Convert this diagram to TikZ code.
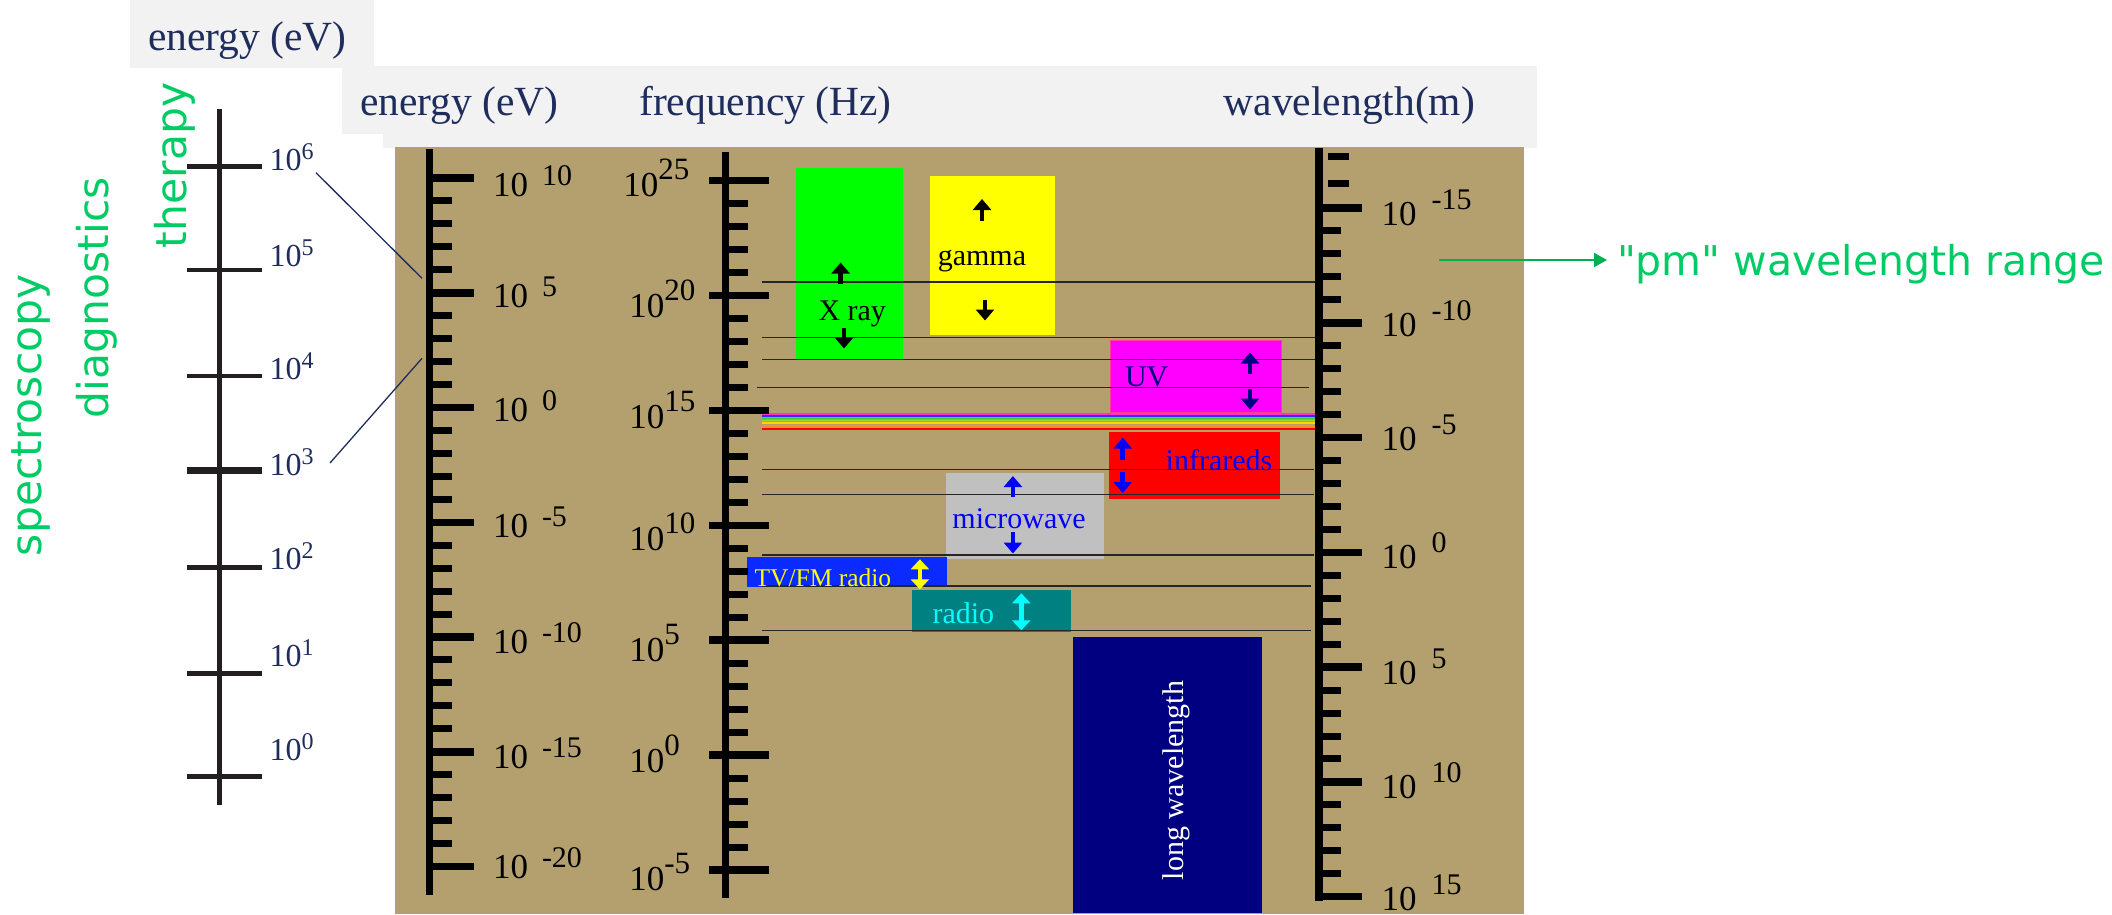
\documentclass[tikz,border=0pt]{standalone}
\usepackage{fontspec}
\setmainfont{Liberation Serif}
\newfontfamily\greenfont{DejaVu Sans}
\usetikzlibrary{arrows.meta}
\definecolor{bgtan}{RGB}{180,160,110}
\definecolor{hdrgray}{RGB}{242,242,242}
\definecolor{navyt}{RGB}{31,45,92}
\definecolor{lscale}{RGB}{35,31,32}
\definecolor{gtext}{RGB}{0,204,102}
\definecolor{garr}{RGB}{0,176,80}
\definecolor{xgreen}{RGB}{0,255,0}
\definecolor{tvblue}{RGB}{10,42,255}
\definecolor{teal2}{RGB}{0,128,128}
\definecolor{navy2}{RGB}{0,0,128}
\definecolor{mwgray}{RGB}{192,192,192}
\definecolor{pyellow}{RGB}{255,255,0}
\definecolor{pcyan}{RGB}{0,255,255}
\definecolor{pmagenta}{RGB}{255,0,255}
\definecolor{pred}{RGB}{255,0,0}
\definecolor{pblue}{RGB}{0,0,255}
\definecolor{uvedge}{RGB}{255,60,150}
\newcommand{\enlab}[1]{\fontsize{35}{35}\selectfont 10\hspace{14pt}\raisebox{11pt}{\fontsize{30}{30}\selectfont #1}}
\newcommand{\wllab}[1]{\fontsize{35}{35}\selectfont 10\hspace{15pt}\raisebox{16pt}{\fontsize{30}{30}\selectfont #1}}
\newcommand{\frlab}[1]{\fontsize{35}{35}\selectfont 10\raisebox{17pt}{\fontsize{31}{31}\selectfont #1}}
\newcommand{\ltlab}[1]{\fontsize{32}{32}\selectfont 10\raisebox{11pt}{\fontsize{24}{24}\selectfont #1}}
\begin{document}
\begin{tikzpicture}[x=1pt,y=-1pt,
  txt/.style={inner sep=0pt,outer sep=0pt,anchor=base west},
  hdr/.style={txt,text=navyt,font=\fontsize{41.5}{41.5}\selectfont},
  boxtxt/.style={txt,font=\fontsize{30}{30}\selectfont},
  gtxt/.style={txt,text=gtext,font=\greenfont\fontsize{42.5}{42.5}\selectfont},
  hline/.style={black!85,line width=1.3pt},
  barr/.style={line width=4.8pt,-{Triangle[width=18pt,length=11pt]}},
  dbarr/.style={line width=4.8pt,{Triangle[width=18pt,length=10pt]}-{Triangle[width=18pt,length=10pt]}},
  major/.style={line width=7.5pt},
  minor/.style={line width=7pt}]
\useasboundingbox (0,0) rectangle (2112,914);
% headers and background
\fill[hdrgray] (130,0) rectangle (374,67.7);
\fill[hdrgray] (342,66) rectangle (1537,134);
\fill[hdrgray] (383,133) rectangle (1537,147.5);
\fill[bgtan] (395,147) rectangle (1524,914);
\node[hdr] (h0) at (148,50) {energy (eV)};
\node[hdr] (h1) at (360,115) {energy (eV)};
\node[hdr] (h2) at (639.3,115) {frequency (Hz)};
\node[hdr,anchor=base east] (h3) at (1475,115) {wavelength(m)};
% left scale
\draw[lscale,line width=5pt] (219.6,109.3) -- (219.6,805);
\foreach \y/\w in {166.7/4.7,270/4.7,376/4.7,470.7/7,567.3/4.7,673.3/4.7,776.7/4.7}
  \draw[lscale,line width=\w pt] (187,\y) -- (262,\y);
\foreach \b/\s [count=\i] in {170.7/6,266/5,379.3/4,475/3,569.3/2,666/1,760.7/0}
  \node[txt,text=navyt] (ll\i) at (269.6,\b) {\ltlab{\s}};
\coordinate (ca1) at (316,172.7);
\coordinate (cb1) at (422,278.3);
\coordinate (ca2) at (330,463);
\coordinate (cb2) at (422,358.3);
\draw[navyt,line width=1.3pt] (ca1) -- (cb1);
\draw[navyt,line width=1.3pt] (ca2) -- (cb2);
% green rotated labels
\node[gtxt,rotate=90] (spec) at (41,556) {spectroscopy};
\node[gtxt,rotate=90] (diag) at (108,418) {diagnostics};
\node[gtxt,rotate=90] (ther) at (186,248) {therapy};
% boxes
\fill[xgreen] (795.5,167.7) rectangle (902.6,359.3);
\fill[pyellow] (930.2,176) rectangle (1055,335);
\fill[pmagenta] (1110,340) rectangle (1281.6,412.5);
\draw[uvedge,line width=1pt] (1110,340) rectangle (1281.6,412.5);
\fill[pred] (1109,432) rectangle (1279.5,498.5);
\fill[mwgray] (945.5,473.3) rectangle (1104,559.3);
\fill[tvblue] (746.5,556.7) rectangle (946.7,587.3);
\fill[teal2] (912.2,590) rectangle (1071,632.3);
\fill[navy2] (1073,636.7) rectangle (1262.4,913);
% thin horizontal lines
\foreach \y/\xs/\xe in {282/761.8/1316,337.5/761.8/1316,359.5/761.8/1316,387.5/757/1309,469.3/761.8/1314,494.3/761.8/1314,555/761.8/1314,586/761.8/1311,630.3/761.8/1311}
  \draw[hline] (\xs,\y) -- (\xe,\y);
% visible spectrum lines
\foreach \y/\c in {414/{rgb,255:red,255;green,51;blue,204},416/{rgb,255:red,60;green,40;blue,255},418.5/{rgb,255:red,51;green,204;blue,51},420.7/{rgb,255:red,160;green,210;blue,60},423/{rgb,255:red,255;green,215;blue,0},426/{rgb,255:red,255;green,140;blue,40}}
  \draw[color=\c,line width=1.3pt] (761.7,\y) -- (1315,\y);
\draw[pred,line width=1.3pt] (761.7,429) -- (1323,429);
% energy scale
\draw[line width=7pt] (429.5,149) -- (429.5,895);
\foreach \k in {0,...,6}{\pgfmathsetmacro\yy{178+114.75*\k}\draw[major] (429.5,\yy) -- (474,\yy);}
\foreach \k in {0,...,5}{\foreach \j in {1,...,4}{\pgfmathsetmacro\yy{178+114.75*\k+22.95*\j}\draw[minor] (429.5,\yy) -- (452.3,\yy);}}
\foreach \b/\s [count=\i] in {196/10,307.3/5,421.7/0,537.3/-5,653.3/-10,768.3/-15,878.3/-20}
  \node[txt] (en\i) at (493,\b) {\enlab{\s}};
% frequency scale
\draw[line width=7.5pt] (725.5,152) -- (725.5,898);
\foreach \k in {0,...,6}{\pgfmathsetmacro\yy{180.7+114.88*\k}\draw[major] (709,\yy) -- (769,\yy);}
\foreach \k in {0,...,5}{\foreach \j in {1,...,4}{\pgfmathsetmacro\yy{180.7+114.88*\k+22.98*\j}\draw[minor] (725.5,\yy) -- (748,\yy);}}
\foreach \x/\b/\s [count=\i] in {623.3/196/25,629.3/317.3/20,629.3/428.3/15,629.3/550/10,629.3/661.7/5,629.3/772.7/0,629.3/890/-5}
  \node[txt] (fr\i) at (\x,\b) {\frlab{\s}};
% wavelength scale
\draw[line width=7.7pt] (1319,148) -- (1319,900.7);
\foreach \k in {0,...,6}{\pgfmathsetmacro\yy{208+114.78*\k}\draw[major] (1315.2,\yy) -- (1362,\yy);}
\foreach \k in {0,...,5}{\foreach \j in {1,...,4}{\pgfmathsetmacro\yy{208+114.78*\k+22.956*\j}\draw[minor] (1319,\yy) -- (1341,\yy);}}
\draw[minor] (1327.7,156) -- (1349,156);
\draw[minor] (1327.7,183.3) -- (1349,183.3);
\foreach \b/\s [count=\i] in {225/-15,336.7/-10,450/-5,568.3/0,684/5,798.3/10,910/15}
  \node[txt] (wl\i) at (1381.7,\b) {\wllab{\s}};
% band labels
\node[boxtxt] (xray) at (818.5,320) {X ray};
\node[boxtxt] (gam) at (937.8,265) {gamma};
\node[boxtxt,text=navy2] (uv) at (1125,386.7) {UV};
\node[boxtxt,text=pblue] (ir) at (1165.7,470) {infrareds};
\node[boxtxt,text=pblue] (mw) at (952.4,528.3) {microwave};
\node[txt,text=pyellow,font=\fontsize{25.5}{25.5}\selectfont] (tv) at (754.5,586.7) {TV/FM radio};
\node[boxtxt,text=pcyan] (rad) at (932.5,623.3) {radio};
\node[boxtxt,text=white,rotate=90] (lw) at (1183,880) {long wavelength};
% block arrows
\draw[barr,black] (840.6,283.5) -- (840.6,262.5);
\draw[barr,black] (844,327.5) -- (844,348.5);
\draw[barr,black] (982,220.5) -- (982,199);
\draw[barr,black] (985,299.5) -- (985,320.5);
\draw[barr,navy2] (1250,373.5) -- (1250,352.5);
\draw[barr,navy2] (1250,389) -- (1250,409.5);
\draw[barr,pblue] (1122.7,459.5) -- (1122.7,437.5);
\draw[barr,pblue] (1122.7,471.5) -- (1122.7,493);
\draw[barr,pblue] (1012.9,497) -- (1012.9,476);
\draw[barr,pblue] (1012.9,532) -- (1012.9,553.5);
\draw[dbarr,pyellow] (919.9,559.3) -- (919.9,589.3);
\draw[dbarr,pcyan] (1021.3,593.3) -- (1021.3,630.3);
% pm arrow
\node[txt,text=gtext,font=\greenfont\fontsize{41}{41}\selectfont] (pm) at (1617,275) {"pm" wavelength range};
\coordinate (pmstart) at (1439,260);
\draw[garr,line width=1.8pt,-{Triangle[width=14pt,length=13pt]},shorten >=10pt] (pmstart) -- (pmstart -| pm.west);
\end{tikzpicture}
\end{document}
